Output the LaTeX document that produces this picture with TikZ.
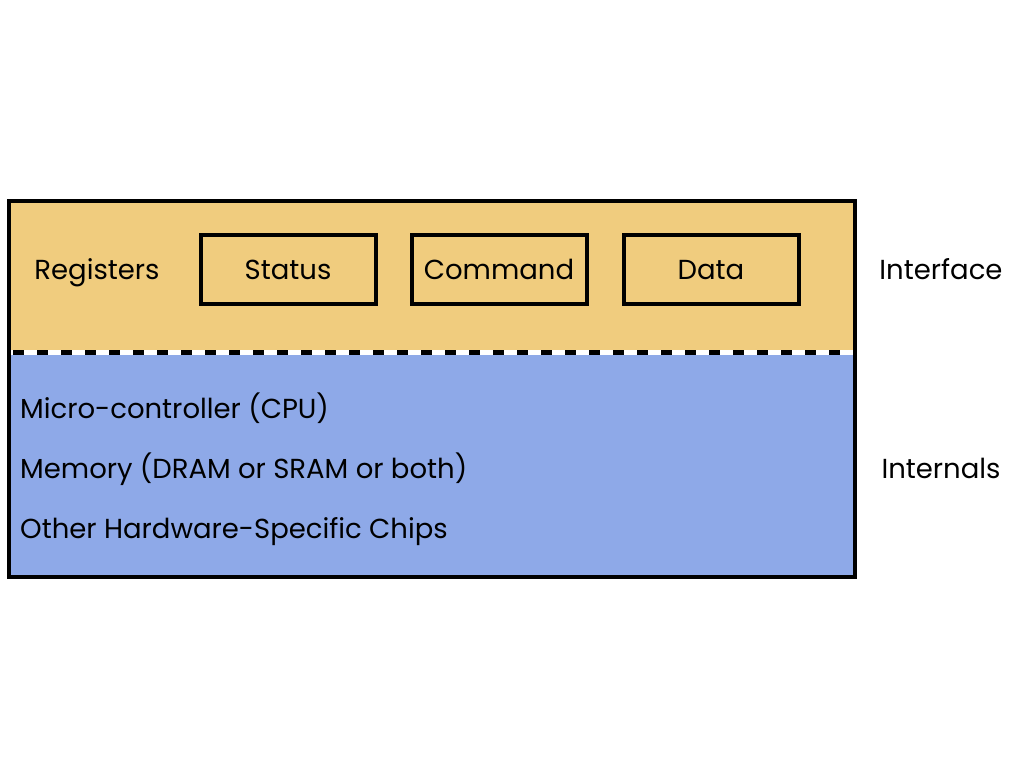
\documentclass[tikz,border=0pt]{standalone}
\usepackage{fontspec}
\setmainfont{Poppins}
\definecolor{ifyellow}{RGB}{240,204,126}
\definecolor{inblue}{RGB}{142,169,232}
\begin{document}
\begin{tikzpicture}[x=1pt,y=-1pt,
  lbl/.style={font=\fontsize{27.5}{32}\selectfont, inner sep=0pt},
  regbox/.style={draw=black, line width=4pt, minimum width=175pt, minimum height=69pt, inner sep=0pt},
]
\useasboundingbox (0,0) rectangle (1024,768);
\fill[ifyellow] (9,201) rectangle (855,352);
\fill[inblue] (9,352) rectangle (855,577);
\draw[white, line width=5pt] (9,352.5) -- (855,352.5);
\draw[black, line width=5pt, dash pattern=on 11pt off 13pt, dash phase=-4pt] (9,352.5) -- (855,352.5);
\draw[black, line width=4pt] (9,201) rectangle (855,577);
\node[regbox] (status) at (288,269.5) {};
\node[regbox] (command) at (499,269.5) {};
\node[regbox] (data) at (711,269.5) {};
\node[lbl, anchor=base] at (status.center |- 0,279.5) {Status};
\node[lbl, anchor=base] at (command.center |- 0,279.5) {Command};
\node[lbl, anchor=base] at (data.center |- 0,279.5) {Data};
\node[lbl, anchor=base] (registers) at (97,279.5) {Registers};
\node[lbl, anchor=base west] (cpu) at (20,418) {Micro-controller (CPU)};
\node[lbl, anchor=base west] (mem) at (20,478) {Memory (DRAM or SRAM or both)};
\node[lbl, anchor=base west] (chips) at (20,538) {Other Hardware-Specific Chips};
\node[lbl, anchor=base] (interface) at (941,279.5) {Interface};
\node[lbl, anchor=base] (internals) at (941,478) {Internals};
\end{tikzpicture}
\end{document}
